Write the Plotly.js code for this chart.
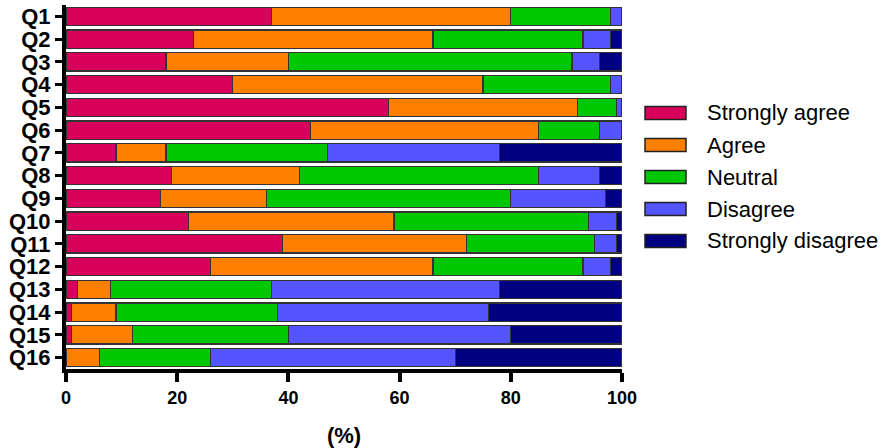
<!DOCTYPE html>
<html>
<head>
<meta charset="utf-8">
<script src="https://cdn.plot.ly/plotly-3.0.1.min.js"></script>
<style>html,body{margin:0;padding:0;background:#fff;}#chart{width:894px;height:448px;}</style>
</head>
<body>
<div id="chart"></div>
<script>
const questions = ["Q1","Q2","Q3","Q4","Q5","Q6","Q7","Q8","Q9","Q10","Q11","Q12","Q13","Q14","Q15","Q16"];
const stronglyAgree    = [37,23,18,30,58,44, 9,19,17,22,39,26, 2, 1, 1, 0];
const agree            = [43,43,22,45,34,41, 9,23,19,37,33,40, 6, 8,11, 6];
const neutral          = [18,27,51,23, 7,11,29,43,44,35,23,27,29,29,28,20];
const disagree         = [ 2, 5, 5, 2, 1, 4,31,11,17, 5, 4, 5,41,38,40,44];
const stronglyDisagree = [ 0, 2, 4, 0, 0, 0,22, 4, 3, 1, 1, 2,22,24,20,30];
const seriesNames  = ["Strongly agree","Agree","Neutral","Disagree","Strongly disagree"];
const seriesColors = ["#d8005a","#ff8000","#00c800","#5555ff","#000080"];
const seriesValues = [stronglyAgree, agree, neutral, disagree, stronglyDisagree];
const xTicks = [0,20,40,60,80,100];

const W = 894, H = 448;
const M = {l: 66, r: 272, t: 5, b: 79};
const plotW = W - M.l - M.r, plotH = H - M.t - M.b;
const px2x = p => (p - M.l) / plotW;
const py2y = p => (H - M.b - p) / plotH;

const traces = seriesValues.map((vals, i) => ({
  type: "bar",
  orientation: "h",
  name: seriesNames[i],
  y: questions,
  x: vals,
  marker: {color: seriesColors[i], line: {color: "#333333", width: 1.2}},
  showlegend: false
}));

// Custom legend (wide rectangular swatches like the original)
const shapes = [], annotations = [];
seriesNames.forEach((name, i) => {
  const cy = 113 + i * 32;
  shapes.push({
    type: "rect", xref: "paper", yref: "paper",
    x0: px2x(645), x1: px2x(686), y0: py2y(cy + 6.5), y1: py2y(cy - 6.5),
    fillcolor: seriesColors[i], line: {color: "#222", width: 1.5}
  });
  annotations.push({
    xref: "paper", yref: "paper", x: px2x(705), y: py2y(cy),
    xanchor: "left", yanchor: "middle", showarrow: false,
    text: name, font: {size: 22, family: "Liberation Sans, Arial, sans-serif", color: "#000"}
  });
});

const layout = {
  width: W, height: H,
  margin: M,
  barmode: "stack",
  bargap: 0.2,
  paper_bgcolor: "#fff",
  plot_bgcolor: "#fff",
  font: {family: "Liberation Sans, Arial, sans-serif", color: "#000"},
  xaxis: {
    range: [0, 100],
    tickvals: xTicks,
    ticktext: xTicks.map(String),
    showgrid: false, zeroline: false,
    showline: true, linecolor: "#000", linewidth: 4,
    ticks: "outside", ticklen: 9, tickwidth: 4, tickcolor: "#000",
    tickfont: {size: 18, family: "Liberation Sans, Arial, sans-serif", weight: "bold"},
    title: {text: "<b>(%)</b>", font: {size: 22}, standoff: 30}
  },
  yaxis: {
    autorange: "reversed",
    tickmode: "array",
    tickvals: questions,
    ticktext: questions,
    showgrid: false, zeroline: false,
    showline: true, linecolor: "#000", linewidth: 4,
    ticks: "outside", ticklen: 7, tickwidth: 3, tickcolor: "#000",
    tickfont: {size: 22, family: "Liberation Sans, Arial, sans-serif", weight: "bold"}
  },
  shapes: shapes,
  annotations: annotations,
  showlegend: false
};

Plotly.newPlot("chart", traces, layout, {displayModeBar: false, staticPlot: true});
</script>
</body>
</html>
